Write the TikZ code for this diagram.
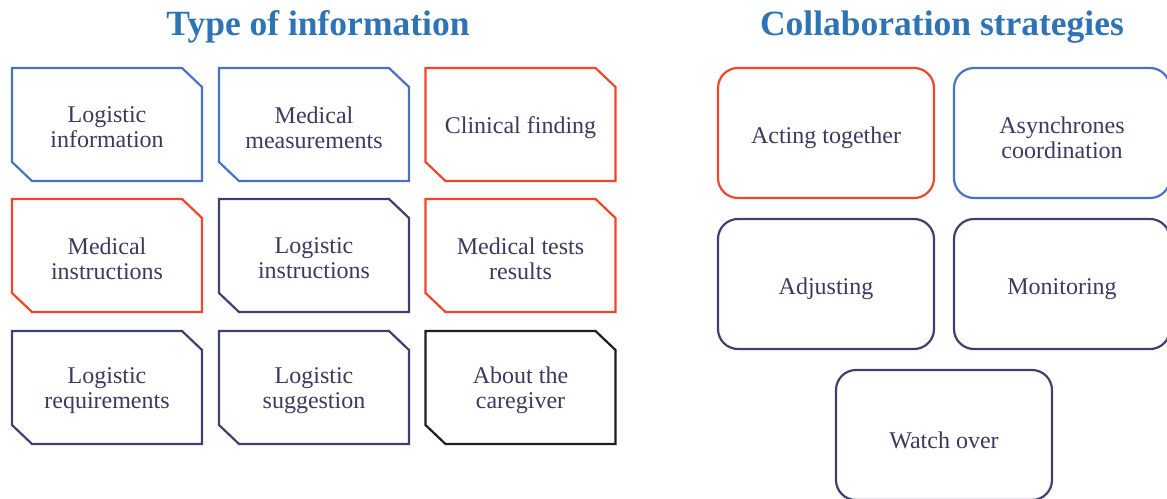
\documentclass[tikz,border=0pt]{standalone}
\usepackage{fontspec}
\setmainfont{Liberation Serif}
\definecolor{ttl}{HTML}{2E74B5}
\definecolor{txt}{HTML}{3A3A5E}
\definecolor{cblue}{HTML}{4A72C4}
\definecolor{cred}{HTML}{F0462C}
\definecolor{cnavy}{HTML}{3E4070}
\definecolor{cblk}{HTML}{1E1E1E}
\tikzset{
  boxtext/.style={inner sep=0pt, text=txt, align=center, font=\fontsize{24}{25}\selectfont},
  outline/.style={line width=2.2pt, draw=#1, line join=miter},
  title/.style={text=ttl, font=\bfseries\fontsize{35.5}{37}\selectfont}
}
% chamfered outline around node #1 (text centre 3px below box centre)
\newcommand\chamfbox[2]{%
  \draw[outline=#2] ([shift={(-95,-59.5)}]#1.center) -- ([shift={(75,-59.5)}]#1.center)
    -- ([shift={(95,-40.5)}]#1.center) -- ([shift={(95,53.5)}]#1.center)
    -- ([shift={(-75,53.5)}]#1.center) -- ([shift={(-95,34.5)}]#1.center) -- cycle;}
\newcommand\roundbox[2]{%
  \draw[outline=#2, rounded corners=20pt] ([shift={(-108,-70)}]#1.center) rectangle ([shift={(108,60)}]#1.center);}
\begin{document}
\begin{tikzpicture}[x=1pt,y=-1pt]
\useasboundingbox (0,0) rectangle (1167,498);
\clip (0,0) rectangle (1167,498);
\node[title] (t1) at (318,27) {Type of information};
\node[title] (t2) at (942,27) {Collaboration strategies};
% left grid
\node[boxtext] (a1) at (107,127.5) {Logistic\\information};
\node[boxtext] (a2) at (314,127.5) {Medical\\measurements};
\node[boxtext] (a3) at (520.5,127.5) {Clinical finding};
\node[boxtext] (b1) at (107,258.5) {Medical\\instructions};
\node[boxtext] (b2) at (314,258.5) {Logistic\\instructions};
\node[boxtext] (b3) at (520.5,258.5) {Medical tests\\results};
\node[boxtext] (c1) at (107,390.5) {Logistic\\requirements};
\node[boxtext] (c2) at (314,390.5) {Logistic\\suggestion};
\node[boxtext] (c3) at (520.5,390.5) {About the\\caregiver};
\chamfbox{a1}{cblue}\chamfbox{a2}{cblue}\chamfbox{a3}{cred}
\chamfbox{b1}{cred}\chamfbox{b2}{cnavy}\chamfbox{b3}{cred}
\chamfbox{c1}{cnavy}\chamfbox{c2}{cnavy}\chamfbox{c3}{cblk}
% right
\node[boxtext] (s1) at (826,138) {Acting together};
\node[boxtext] (s2) at (1062,138) {Asynchrones\\coordination};
\node[boxtext] (s3) at (826,289) {Adjusting};
\node[boxtext] (s4) at (1062,289) {Monitoring};
\node[boxtext] (s5) at (944,440) {Watch over};
\roundbox{s1}{cred}\roundbox{s2}{cblue}
\roundbox{s3}{cnavy}\roundbox{s4}{cnavy}\roundbox{s5}{cnavy}
\end{tikzpicture}
\end{document}
